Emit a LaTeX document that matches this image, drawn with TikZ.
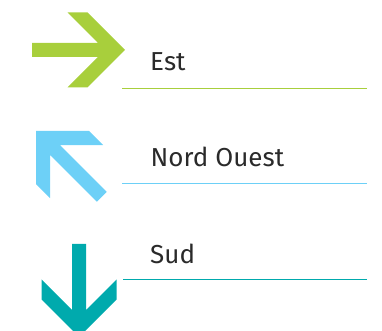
\documentclass[tikz,border=0pt]{standalone}
\usepackage{fontspec}
\setmainfont{Fira Sans}
\usepackage{xcolor}
\usepackage{tikz}
\usetikzlibrary{calc}

\definecolor{estgreen}{HTML}{A8CF3C}
\definecolor{nwblue}{HTML}{6DD0F7}
\definecolor{sudteal}{HTML}{00AAAD}
\definecolor{txtgray}{HTML}{2A2A2A}

\tikzset{
	dirlabel/.style={anchor=base west,inner sep=0pt,text=txtgray,
		font=\fontsize{26}{30}\selectfont},
	underline/.style={line width=0.8pt}
}

\begin{document}
\begin{tikzpicture}[x=1pt,y=1pt]
		\def\pfeil{(0,0) -- (-37.5,37.5) -- (-57.5,37.5) -- (-27,7) -- (-93,7)
			-- (-93,-7) -- (-27,-7) -- (-57.5,-37.5) -- (-37.5,-37.5) -- cycle}
		\useasboundingbox (0,0) rectangle (382,331);
		\clip (0,0) rectangle (382,331);
		\begin{scope}[shift={(125,281)}]
			\fill [estgreen] \pfeil;
		\end{scope}
		\begin{scope}[shift={(36,200)},rotate=135]
			\fill [nwblue] \pfeil;
		\end{scope}
		\begin{scope}[shift={(79,-6)},rotate=-90]
			\fill [sudteal] \pfeil;
		\end{scope}
		\node [dirlabel] (est) at (150,260) {Est};
		\node [dirlabel] (nordouest) at (150.5,164.3) {Nord Ouest};
		\node [dirlabel] (sud) at (150,67.7) {Sud};
		\draw [underline,estgreen] (122,242.7) -- (367,242.7);
		\draw [underline,nwblue] (122,147.7) -- (367,147.7);
		\draw [underline,sudteal] (123,51.7) -- (367,51.7);
	\end{tikzpicture}
\end{document}
